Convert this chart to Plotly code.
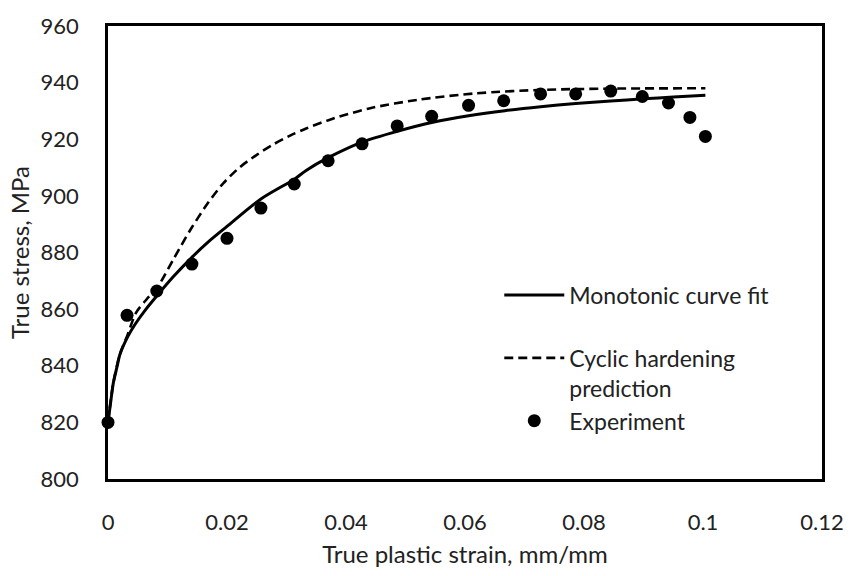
import plotly.graph_objects as go

# Experiment points
exp_strain = [0.0, 0.0032, 0.0082, 0.0141, 0.0200, 0.0257, 0.0313, 0.0370, 0.0427,
              0.0486, 0.0544, 0.0606, 0.0665, 0.0727, 0.0786, 0.0845, 0.0898, 0.0942,
              0.0978, 0.1004]
exp_stress = [820.0, 857.8, 866.4, 875.9, 885.0, 895.7, 904.2, 912.4, 918.4,
              924.7, 928.1, 932.0, 933.6, 936.0, 936.0, 937.0, 935.1, 932.8,
              927.7, 921.0]

# Monotonic curve fit
mono_strain = [0.0, 0.0005, 0.0009, 0.0015, 0.0020, 0.0033, 0.0045, 0.0062, 0.0083,
               0.0110, 0.0141, 0.0170, 0.0200, 0.0257, 0.0314, 0.0333, 0.0370, 0.0427,
               0.0486, 0.0546, 0.0606, 0.0667, 0.0727, 0.0786, 0.0845, 0.0900, 0.0950,
               0.1004]
mono_stress = [820.0, 828.0, 834.0, 839.5, 844.0, 850.2, 854.5, 859.5, 864.9,
               871.5, 878.3, 884.0, 889.2, 898.9, 906.0, 909.0, 913.5, 919.0,
               922.8, 926.0, 928.3, 930.1, 931.5, 932.6, 933.5, 934.3, 934.9,
               935.5]

# Cyclic hardening prediction
cyc_strain = [0.0, 0.0009, 0.0020, 0.0033, 0.0047, 0.0065, 0.0083, 0.0111, 0.0139,
              0.0167, 0.0194, 0.0222, 0.0250, 0.0278, 0.0306, 0.0333, 0.0374, 0.0439,
              0.0520, 0.0617, 0.0738, 0.0859, 0.1004]
cyc_stress = [820.0, 834.0, 844.0, 851.0, 858.7, 863.5, 867.7, 878.0, 888.2,
              897.2, 904.5, 910.2, 914.5, 918.2, 921.3, 923.8, 927.0, 930.9,
              933.9, 936.2, 937.5, 937.9, 938.0]

x_ticks = [0, 0.02, 0.04, 0.06, 0.08, 0.1, 0.12]
x_tick_labels = ["0", "0.02", "0.04", "0.06", "0.08", "0.1", "0.12"]
y_ticks = [800, 820, 840, 860, 880, 900, 920, 940, 960]

FONT = "Lato"
TXT = "#222222"

fig = go.Figure()
fig.add_trace(go.Scatter(x=mono_strain, y=mono_stress, mode="lines",
                         name="Monotonic curve fit<br> ",
                         line=dict(color="black", width=3, shape="spline", smoothing=0.8)))
fig.add_trace(go.Scatter(x=cyc_strain, y=cyc_stress, mode="lines",
                         name="Cyclic hardening<br>prediction",
                         line=dict(color="black", width=2.6, dash="9px,5px",
                                   shape="spline", smoothing=0.8)))
fig.add_trace(go.Scatter(x=exp_strain, y=exp_stress, mode="markers",
                         name="Experiment", cliponaxis=False,
                         marker=dict(color="black", size=13)))

fig.update_layout(
    width=856, height=576,
    margin=dict(l=108, r=28, t=15, b=90),
    paper_bgcolor="white", plot_bgcolor="white",
    font=dict(family=FONT, size=24, color=TXT),
    showlegend=True,
    legend=dict(x=0.548, y=0.4534, xanchor="left", yanchor="top",
                bgcolor="rgba(0,0,0,0)", valign="top",
                font=dict(family=FONT, size=23, color=TXT),
                itemwidth=60, tracegroupgap=0),
    xaxis=dict(range=[0, 0.12], tickvals=x_ticks, ticktext=x_tick_labels,
               showgrid=False, zeroline=False, showline=True, mirror=True,
               linecolor="black", linewidth=2.6, ticks="",
               ticklabelstandoff=22, ticklabeloverflow="allow",
               tickfont=dict(family=FONT, size=22, color=TXT),
               title=dict(text="True plastic strain, mm/mm", standoff=12,
                          font=dict(family=FONT, size=24, color=TXT))),
    yaxis=dict(range=[800, 960], tickvals=y_ticks,
               showgrid=False, zeroline=False, showline=True, mirror=True,
               linecolor="black", linewidth=2.6, ticks="",
               ticklabelstandoff=22, ticklabeloverflow="allow",
               tickfont=dict(family=FONT, size=22, color=TXT),
               title=dict(text="True stress, MPa", standoff=5,
                          font=dict(family=FONT, size=24, color=TXT))),
)

fig.write_html("out.html")
